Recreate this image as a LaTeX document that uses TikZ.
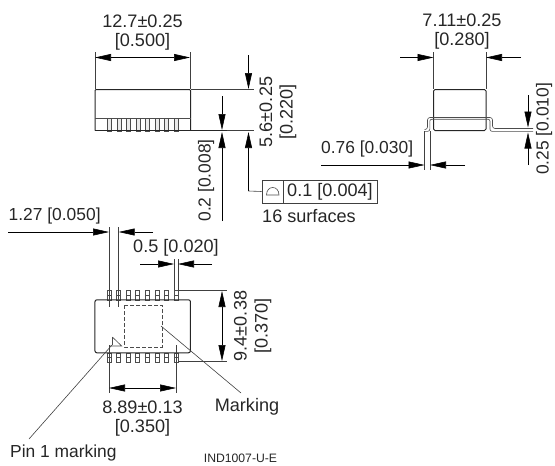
\documentclass[tikz,border=0pt]{standalone}
\usepackage{fontspec}
\setmainfont{Liberation Sans}
\usetikzlibrary{arrows.meta}
\tikzset{
  dim/.style={draw=black,line width=0.55pt,-{Triangle[length=16pt,width=7pt]}},
  ext/.style={draw=black!75,line width=0.6pt},
  part/.style={draw=black!85,line width=1pt},
  thinpart/.style={draw=black!70,line width=0.6pt},
  lbl/.style={inner sep=0pt,font=\fontsize{18.1}{20}\selectfont,text=black!85},
  lblnarrow/.style={inner sep=0pt,font=\fontsize{17.4}{20}\selectfont,text=black!85},
  rlbl/.style={lbl,rotate=90}
}
\begin{document}
\begin{tikzpicture}[x=1pt,y=-1pt]
\useasboundingbox (0,0) rectangle (555,466);
% Side view
\coordinate (sA) at (95,52); \coordinate (sAb) at (95,89);
\coordinate (sB) at (190,52); \coordinate (sBb) at (190,89);
\draw[ext] (sA) -- (sAb);
\draw[ext] (sB) -- (sBb);
\draw[dim] (143,57.5) -- (95,57.5);
\draw[dim] (143,57.5) -- (190,57.5);
\node[lbl] (t1) at (142.5,21) {12.7±0.25};
\node[lbl] (t2) at (142.5,42) {[0.500]};
\foreach \x in {107.5,117,126.5,136,145.5,155,164.5,174}
  \draw[thinpart,fill=black!8] (\x,118.5) rectangle ++(4,13);
\draw[part,rounded corners=1pt] (95,130.5) -- (95,89.5) -- (190.5,89.5) -- (190.5,130.5);
\draw[thinpart] (95,118.5) -- (190.5,118.5);
\draw[part] (95,130.5) -- (190.5,130.5);
\draw[ext] (190.5,89.5) -- (254,89.5);
\draw[part,line width=0.8pt] (178,130.7) -- (227,130.7);
\draw[ext] (227,130.7) -- (254,130.7);
\draw[dim] (248.5,55) -- (248.5,89);
\draw[dim] (248.5,191) -- (248.5,132);
\draw[dim] (222,96) -- (222,130);
\draw[dim] (222,221) -- (222,132);
\node[rlbl] (t3) at (266,112) {5.6±0.25};
\node[rlbl] (t4) at (288,112) {[0.220]};
\node[lblnarrow,rotate=90] (t5) at (206,180.5) {0.2 [0.008]};
% Flatness box
\node[draw=black!75,line width=0.7pt,minimum width=21pt,minimum height=23pt,inner sep=0pt] (fbox) at (272.5,191.5) {};
\node[draw=black!75,line width=0.7pt,minimum width=94pt,minimum height=23pt,inner sep=0pt,lbl] (fval) at (330,191.5) {0.1 [0.004]};
\draw[ext] (248.5,191) -- (fbox.west);
\draw[thinpart] (266.5,195) -- (279,195) .. controls (279,185) and (266.5,185) .. (266.5,195) -- cycle;
\node[lbl,anchor=west] (t6) at (262,216) {16 surfaces};
% End view
\draw[ext] (433.5,52) -- (433.5,89);
\draw[ext] (486,52) -- (486,89);
\draw[dim] (400,57.5) -- (433.5,57.5);
\draw[dim] (521,57.5) -- (486,57.5);
\node[lbl] (t7) at (462,20) {7.11±0.25};
\node[lbl] (t8) at (462,41) {[0.280]};
\draw[part,rounded corners=1.5pt] (433.5,130.5) -- (433.5,89.5) -- (486,89.5) -- (486,130.5) -- cycle;
\draw[thinpart,rounded corners=2.5pt] (424.5,129.5) -- (427.5,129.5) -- (427.5,117.5) -- (492.5,117.5) -- (492.5,128.5) -- (533,128.5);
\draw[thinpart,rounded corners=2pt] (424.5,131.3) -- (429.8,131.3) -- (429.8,119.2) -- (490,119.2) -- (490,131.3) -- (533,131.3);
\draw[ext] (424.5,131) -- (424.5,170);
\draw[ext] (429.8,131) -- (429.8,170);
\draw[dim] (321,165) -- (424.5,165);
\draw[dim] (465,165) -- (430,165);
\node[lblnarrow,anchor=west] (t9) at (321,149) {0.76 [0.030]};
\draw[dim] (528,95) -- (528,127.5);
\draw[dim] (528,165) -- (528,132.5);
\node[lblnarrow,rotate=90] (t10) at (544,129) {0.25 [0.010]};
% Bottom view
\foreach \x in {109,118.5,128,137.5,147,157,166.5,176}{
  \draw[thinpart,fill=white] (\x-2.2,290.5) rectangle (\x+2.2,300);
  \draw[thinpart] (\x-2.2,295) -- (\x+2.2,295);
  \draw[thinpart,fill=white] (\x-2.2,353) rectangle (\x+2.2,362);
  \draw[thinpart] (\x-2.2,357.5) -- (\x+2.2,357.5);
}
\node[draw=black!85,line width=1pt,rounded corners=2pt,minimum width=95.5pt,minimum height=53pt,inner sep=0pt] (body) at (142.7,326.3) {};
\draw[thinpart,dash pattern=on 4pt off 2pt] (124,305) rectangle (162,347);
\draw[thinpart] (112.3,337) -- (121.7,346) -- (110,346);
\draw[thinpart] (112.3,337) -- (112.3,345);
\coordinate (pinend) at (29,439);
\draw[ext] (pinend) -- (112,345);
\coordinate (markend) at (241,393);
\draw[ext] (161,326) -- (markend);
\node[lblnarrow,anchor=west] (t11) at (10,453) {Pin 1 marking};
\node[lbl] (t12) at (247,407) {Marking};
\node[inner sep=0pt,font=\fontsize{12.2}{14}\selectfont,text=black!85] (t13) at (240.5,458) {IND1007-U-E};
% dims of bottom view
\draw[ext] (109,227) -- (109,307);
\draw[ext] (118.7,227) -- (118.7,307);
\draw[dim] (8,232) -- (109,232);
\draw[dim] (153,232) -- (118.7,232);
\node[lblnarrow,anchor=west] (t14) at (8.5,216) {1.27 [0.050]};
\node[lbl] (t15) at (176,248) {0.5 [0.020]};
\draw[ext] (174,259) -- (174,290);
\draw[ext] (178,259) -- (178,290);
\draw[dim] (140,264) -- (174,264);
\draw[dim] (212,264) -- (178,264);
\draw[ext] (178,290.5) -- (227,290.5);
\draw[ext] (178,361.7) -- (227,361.7);
\draw[dim] (222,326) -- (222,291);
\draw[dim] (222,326) -- (222,361);
\node[rlbl] (t16) at (240.5,326) {9.4±0.38};
\node[rlbl] (t17) at (263,326) {[0.370]};
\draw[ext] (109,345) -- (109,393);
\draw[ext] (176,345) -- (176,393);
\draw[dim] (142,388) -- (109,388);
\draw[dim] (142,388) -- (176,388);
\node[lbl] (t18) at (142.5,407) {8.89±0.13};
\node[lbl] (t19) at (142.5,428) {[0.350]};
\end{tikzpicture}
\end{document}
